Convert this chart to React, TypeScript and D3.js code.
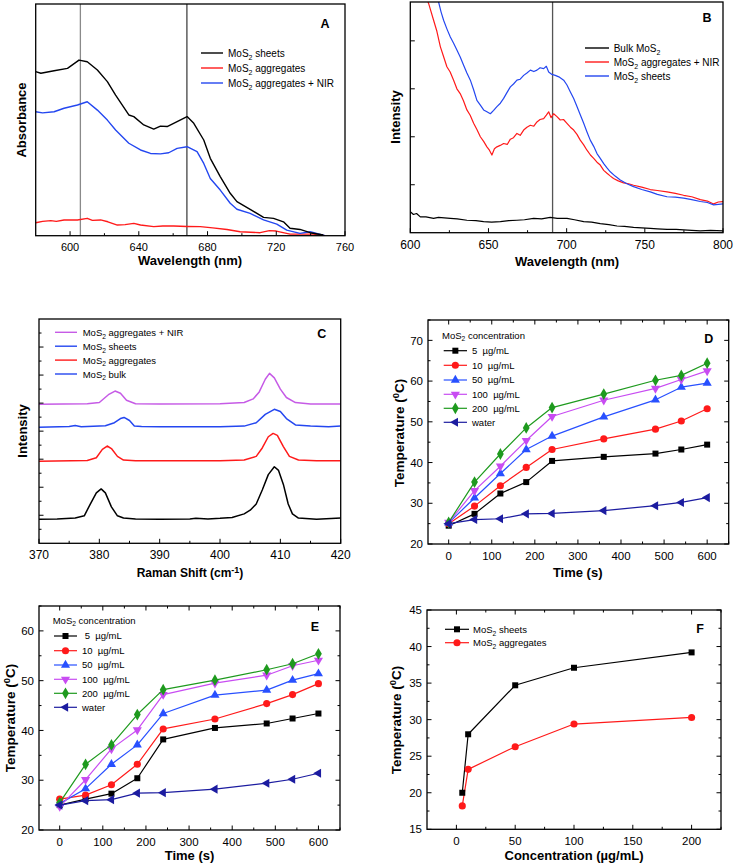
import React from "react";
import * as d3 from "d3";

const FONT = "'Liberation Sans', Arial, Helvetica, sans-serif";
type P = [number, number];

// ---------- Panel A: absorbance ----------
const aSheets: P[] = [[580,0.708],[583,0.701],[590.7,0.712],[598.5,0.722],[605.2,0.758],[610,0.751],[615.9,0.715],[621.7,0.665],[626.5,0.607],[634.2,0.521],[637.1,0.514],[642.9,0.478],[648.7,0.46],[652.6,0.473],[656.5,0.471],[662.3,0.492],[668.1,0.514],[672,0.485],[677.8,0.413],[681.6,0.334],[687.4,0.255],[693.2,0.183],[697.1,0.147],[704.8,0.114],[712.6,0.079],[718.4,0.075],[724.2,0.06],[728,0.032],[733.8,0.027],[739.7,0.013],[747.4,0.003]];
const aAggregates: P[] = [[580,0.056],[584,0.062],[588.8,0.065],[592,0.062],[596.5,0.068],[604.3,0.068],[610,0.075],[613,0.066],[617.8,0.068],[622,0.06],[627.5,0.046],[632,0.048],[637.1,0.053],[641,0.046],[648.7,0.039],[654,0.042],[660.3,0.042],[668,0.04],[675.8,0.039],[683,0.034],[691.3,0.027],[699,0.017],[705,0.015],[710.6,0.013],[716,0.022],[720,0.02],[728,0.007],[741.6,0.007],[748.4,0]];
const aAggNIR: P[] = [[580,0.535],[584,0.53],[590.7,0.535],[596.5,0.55],[604.3,0.564],[610,0.578],[615.9,0.542],[621.7,0.499],[626.5,0.456],[634.2,0.399],[641,0.37],[646.8,0.355],[652.6,0.353],[657.4,0.358],[662.3,0.377],[668.1,0.384],[673.9,0.363],[677.8,0.312],[681.6,0.247],[687.4,0.197],[693.2,0.14],[697.1,0.114],[704.8,0.096],[712.6,0.068],[720.3,0.05],[726.1,0.024],[733.8,0.01],[739.7,0.017],[748.4,0]];
const aVLines = [606, 668];
const aXTicks = [600, 640, 680, 720, 760];
const aXMinor = [620, 660, 700, 740];
const aLegend = ["sheets", "aggregates", "aggregates + NIR"];

// ---------- Panel B: photoluminescence ----------
const bBulk: P[] = [[600,0.44],[602,0.38],[604,0.4],[606.4,0.33],[610,0.33],[614.9,0.3],[618,0.32],[625.6,0.3],[630,0.29],[636.2,0.26],[642,0.25],[646.9,0.23],[652,0.22],[657.6,0.23],[663,0.25],[668.2,0.26],[673,0.27],[678.9,0.3],[684,0.29],[689.5,0.32],[694,0.3],[700.2,0.3],[705,0.27],[710.9,0.23],[716,0.22],[721.5,0.19],[727,0.17],[732.2,0.14],[737,0.13],[742.8,0.11],[748,0.1],[753.5,0.09],[758,0.08],[764.2,0.07],[770,0.07],[774.8,0.06],[780,0.05],[785.5,0.04],[792,0.05],[800,0.04]];
const bAggNIR: P[] = [[609,5.0],[611.7,4.78],[614.9,4.43],[617,4.2],[619.2,3.88],[621,3.7],[623.4,3.46],[625.5,3.35],[627.7,3.18],[629.8,3.0],[631.9,2.9],[634,2.75],[636.2,2.56],[638.3,2.45],[640.5,2.28],[642.6,2.15],[644.8,2.0],[647,1.9],[649,1.79],[650.6,1.72],[652.2,1.62],[653.8,1.75],[655.4,1.79],[657.5,1.82],[659.7,1.86],[662,1.84],[664,1.95],[666,1.98],[668.2,2.07],[670.3,2.03],[672.5,2.14],[674.6,2.2],[676.8,2.24],[679,2.22],[681,2.31],[683,2.36],[685.3,2.38],[687,2.45],[688.5,2.52],[690,2.4],[691.7,2.48],[693.8,2.42],[695.9,2.35],[698,2.36],[700.2,2.28],[702.4,2.2],[704.5,2.14],[706.6,2.05],[708.7,1.93],[710.9,1.83],[713,1.72],[715.2,1.62],[717.3,1.55],[719.4,1.47],[721.5,1.41],[723.7,1.3],[725.8,1.24],[728,1.18],[730,1.13],[733,1.08],[736.4,1.04],[739.6,1.02],[742.8,0.99],[748,0.95],[753.5,0.9],[758,0.88],[764.2,0.85],[769.5,0.82],[774.8,0.78],[780,0.75],[785.5,0.69],[790,0.66],[794,0.6],[797,0.64],[800,0.65]];
const bSheets: P[] = [[616.5,5.0],[618.1,4.81],[619.7,4.6],[621.3,4.43],[623.4,4.25],[625.6,4.08],[627.7,3.95],[629.8,3.81],[632,3.66],[634.1,3.49],[636.2,3.33],[638.4,3.18],[640.5,2.98],[642.6,2.76],[644.8,2.66],[646.9,2.56],[649,2.52],[651.2,2.48],[653.3,2.55],[655.4,2.63],[657.6,2.7],[659.7,2.8],[661.8,2.92],[664,3.04],[666,3.1],[668.2,3.18],[670.3,3.2],[672.5,3.28],[674.6,3.33],[676.8,3.39],[679,3.36],[681,3.39],[683,3.44],[685.3,3.42],[687,3.47],[688.5,3.35],[690.6,3.3],[692.7,3.28],[695,3.25],[698.1,3.18],[700.2,3.08],[702.3,2.94],[704.5,2.8],[706.6,2.63],[708.7,2.46],[710.9,2.28],[713,2.1],[715.1,1.93],[717.3,1.8],[719.4,1.65],[721.5,1.55],[723.7,1.44],[725.8,1.35],[727.9,1.27],[731,1.18],[734.3,1.1],[738.5,1.02],[742.8,0.96],[748,0.9],[753.5,0.85],[758,0.8],[764.2,0.75],[769.5,0.74],[774.8,0.72],[780,0.69],[785.5,0.65],[790,0.63],[794,0.58],[800,0.6]];
const bVLine = 691;
const bXTicks = [600, 650, 700, 750, 800];
const bXMinor = [625, 675, 725, 775];
const bYTicks = [1, 2, 3, 4];

// ---------- Panel C: Raman ----------
const cBulk: P[] = [[370,0.86],[373,0.87],[376,0.9],[377.5,0.98],[378.5,1.4],[379.5,1.8],[380.3,1.94],[381,1.8],[382,1.3],[383,0.98],[384,0.9],[386,0.87],[390,0.86],[395,0.87],[396,0.89],[398,0.87],[400,0.89],[402,0.92],[404,1.05],[405,1.18],[406,1.4],[407,1.9],[408,2.45],[409,2.73],[409.7,2.6],[410.5,2.1],[411.3,1.4],[412,1.05],[413,0.9],[416,0.86],[420,0.9]];
const cAggregates: P[] = [[370,2.93],[378,2.95],[379.5,3.05],[380.5,3.35],[381.3,3.47],[382,3.38],[383,3.1],[384,2.97],[386,2.94],[400,2.94],[404,2.97],[406,3.1],[407,3.4],[408,3.8],[408.8,3.92],[409.5,3.85],[410.5,3.45],[411.5,3.1],[413,2.97],[416,2.94],[420,2.94]];
const cSheets: P[] = [[370,4.14],[375,4.17],[376,4.2],[377,4.16],[381,4.19],[382.5,4.3],[383.5,4.45],[384.1,4.49],[385,4.38],[385.8,4.18],[387,4.17],[390,4.16],[400,4.16],[404,4.18],[406,4.3],[407.5,4.6],[409,4.78],[410,4.7],[411,4.45],[412.5,4.22],[415,4.18],[418,4.16],[420,4.18]];
const cAggNIR: P[] = [[370,4.96],[378,4.98],[380,5.02],[381.5,5.3],[382.6,5.43],[383.5,5.35],[384.5,5.1],[386,4.98],[390,4.97],[400,4.98],[404,5.02],[405.5,5.15],[406.5,5.4],[407.5,5.85],[408.2,6.06],[409,5.9],[410,5.5],[411,5.2],[412.5,5.02],[415,4.97],[420,4.97]];
const cXTicks = [370, 380, 390, 400, 410, 420];
const cXMinor = [375, 385, 395, 405, 415];
const cYTicks = [1, 2, 3, 4, 5, 6, 7];
const cYMinor = [0.5, 1.5, 2.5, 3.5, 4.5, 5.5, 6.5, 7.5];
const cLegend = ["aggregates + NIR", "sheets", "aggregates", "bulk"];

// ---------- Panels D & E: heating curves ----------
const times = [0, 60, 120, 180, 240, 360, 480, 540, 600];
const concLabels = ["5  µg/mL", "10  µg/mL", "50  µg/mL", "100  µg/mL", "200  µg/mL", "water"];
const eConcLabels = [" 5  µg/mL", "10  µg/mL", "50  µg/mL", "100  µg/mL", "200  µg/mL", "water"];
const d5 = [24.5, 27.4, 32.4, 35.2, 40.4, 41.4, 42.2, 43.2, 44.4];
const d10 = [25.0, 29.3, 34.3, 38.8, 43.2, 45.8, 48.2, 50.2, 53.2];
const d50 = [25.2, 31.3, 37.3, 43.2, 46.5, 51.2, 55.4, 58.5, 59.5];
const d100 = [25.3, 33.1, 39.1, 45.4, 51.3, 55.3, 58.2, 60.4, 62.5];
const d200 = [25.3, 35.2, 42.1, 48.5, 53.5, 56.8, 60.2, 61.4, 64.4];
const dWater = [25.0, 26.0, 26.2, 27.4, 27.5, 28.2, 29.4, 30.2, 31.4];
const e5 = [25.0, 26.2, 27.3, 30.4, 38.2, 40.5, 41.4, 42.4, 43.4];
const e10 = [26.2, 27.0, 29.1, 33.2, 40.3, 42.3, 45.4, 47.2, 49.4];
const e50 = [25.3, 28.3, 33.2, 37.1, 43.4, 47.1, 48.1, 50.1, 51.4];
const e100 = [24.7, 30.1, 36.3, 40.1, 47.2, 49.5, 51.1, 53.0, 54.1];
const e200 = [25.5, 33.2, 37.1, 43.2, 48.2, 50.1, 52.2, 53.4, 55.4];
const eWater = [25.0, 25.9, 26.1, 27.4, 27.5, 28.2, 29.4, 30.2, 31.4];
const timeTicks = [0, 100, 200, 300, 400, 500, 600];
const timeMinor = [50, 150, 250, 350, 450, 550, 650];
const dYTicks = [20, 30, 40, 50, 60, 70];
const dYMinor = [25, 35, 45, 55, 65, 75];
const eYTicks = [20, 30, 40, 50, 60];
const eYMinor = [25, 35, 45, 55, 65];

// ---------- Panel F: temperature vs concentration ----------
const fConc = [5, 10, 50, 100, 200];
const fSheets = [20.0, 28.0, 34.7, 37.1, 39.2];
const fAggregates = [18.2, 23.2, 26.3, 29.4, 30.3];
const fXTicks = [0, 50, 100, 150, 200];
const fXMinor = [25, 75, 125, 175, 225];
const fYTicks = [15, 20, 25, 30, 35, 40, 45];
const fYMinor = [17.5, 22.5, 27.5, 32.5, 37.5, 42.5];
const fLegend = ["sheets", "aggregates"];

// ---------- styles ----------
const COL = {
  black: "#000000",
  red: "#ff1a1a",
  blue: "#2447f0",
  violet: "#c84cf2",
  green: "#1e9a1e",
  navy: "#1c1ca0",
  magenta: "#c65be6",
};
const seriesStyles = [
  { color: COL.black, shape: "square" },
  { color: COL.red, shape: "circle" },
  { color: "#2850ff", shape: "up" },
  { color: COL.violet, shape: "down" },
  { color: COL.green, shape: "diamond" },
  { color: COL.navy, shape: "left" },
];

type Sc = d3.ScaleLinear<number, number>;

function Marker({ shape, x, y, color }: { shape: string; x: number; y: number; color: string }) {
  let type: d3.SymbolType = d3.symbolSquare;
  let rot = 0;
  let size = 36;
  if (shape === "circle") { type = d3.symbolCircle; size = 40; }
  if (shape === "up") { type = d3.symbolTriangle; size = 36; }
  if (shape === "down") { type = d3.symbolTriangle; rot = 180; size = 36; }
  if (shape === "left") { type = d3.symbolTriangle; rot = -90; size = 36; }
  if (shape === "diamond") { type = d3.symbolDiamond; size = 40; }
  const path = d3.symbol().type(type).size(size)() || "";
  return <path d={path} fill={color} transform={`translate(${x},${y}) rotate(${rot})`} />;
}

function Frame(props: {
  x: Sc; y: Sc; id: string;
  xTicks: number[]; xMinor?: number[]; yTicks?: number[]; yMinor?: number[];
  xLabels?: boolean; yLabels?: boolean; mirror?: boolean; labelFs?: number;
  xLabelDy?: number; yLabelDx?: number;
}) {
  const { x, y, xTicks, xMinor = [], yTicks = [], yMinor = [], xLabels = true, yLabels = false, mirror = false } = props;
  const fs = props.labelFs ?? 11;
  const [x0, x1] = x.range();
  const [y0, y1] = y.range(); // y0 bottom, y1 top
  const M = 4.5, m = 2.5;
  const els: React.ReactNode[] = [];
  xTicks.forEach((t, i) => {
    const px = x(t);
    els.push(<line key={"xt" + i} x1={px} x2={px} y1={y0} y2={y0 - M} stroke="#000" strokeWidth={1} />);
    if (mirror) els.push(<line key={"xtt" + i} x1={px} x2={px} y1={y1} y2={y1 + M} stroke="#000" strokeWidth={1} />);
    if (xLabels) els.push(<text key={"xl" + i} x={px} y={y0 + (props.xLabelDy ?? 15)} textAnchor="middle" fontSize={fs}>{t}</text>);
  });
  xMinor.forEach((t, i) => {
    const px = x(t);
    if (px < x0 - 0.5 || px > x1 + 0.5) return;
    els.push(<line key={"xm" + i} x1={px} x2={px} y1={y0} y2={y0 - m} stroke="#000" strokeWidth={1} />);
    if (mirror) els.push(<line key={"xmt" + i} x1={px} x2={px} y1={y1} y2={y1 + m} stroke="#000" strokeWidth={1} />);
  });
  yTicks.forEach((t, i) => {
    const py = y(t);
    els.push(<line key={"yt" + i} x1={x0} x2={x0 + M} y1={py} y2={py} stroke="#000" strokeWidth={1} />);
    if (mirror) els.push(<line key={"ytr" + i} x1={x1} x2={x1 - M} y1={py} y2={py} stroke="#000" strokeWidth={1} />);
    if (yLabels) els.push(<text key={"yl" + i} x={x0 - (props.yLabelDx ?? 5)} y={py + fs * 0.36} textAnchor="end" fontSize={fs}>{t}</text>);
  });
  yMinor.forEach((t, i) => {
    const py = y(t);
    if (py > y0 + 0.5 || py < y1 - 0.5) return;
    els.push(<line key={"ym" + i} x1={x0} x2={x0 + m} y1={py} y2={py} stroke="#000" strokeWidth={1} />);
    if (mirror) els.push(<line key={"ymr" + i} x1={x1} x2={x1 - m} y1={py} y2={py} stroke="#000" strokeWidth={1} />);
  });
  return (
    <g>
      <rect x={x0} y={y1} width={x1 - x0} height={y0 - y1} fill="none" stroke="#000" strokeWidth={1.3} />
      {els}
    </g>
  );
}

function MoS2({ x, y, rest, fs, prefix = "" }: { x: number; y: number; rest: string; fs: number; prefix?: string }) {
  return (
    <text x={x} y={y} fontSize={fs} style={{ whiteSpace: "pre" }}>
      {prefix}MoS<tspan dy={fs * 0.3} fontSize={fs * 0.7}>2</tspan>
      <tspan dy={-fs * 0.3}>{rest}</tspan>
    </text>
  );
}

function TempLabel({ x, y, fs }: { x: number; y: number; fs: number }) {
  return (
    <text x={x} y={y} fontSize={fs} fontWeight="bold" textAnchor="middle" transform={`rotate(-90 ${x} ${y})`}>
      Temperature (<tspan dy={-fs * 0.35} fontSize={fs * 0.7}>0</tspan>
      <tspan dy={fs * 0.35}>C)</tspan>
    </text>
  );
}

function Curve({ data, x, y, color, w = 1.4 }: { data: P[]; x: Sc; y: Sc; color: string; w?: number }) {
  const d = d3.line<P>().x((p) => x(p[0])).y((p) => y(p[1]))(data) || "";
  return <path d={d} fill="none" stroke={color} strokeWidth={w} strokeLinejoin="round" />;
}

function HeatPanel(props: {
  L: number; R: number; T: number; B: number; id: string; yDom: [number, number];
  series: number[][]; yTicks: number[]; yMinor: number[]; labels: string[];
  legend: { tx: number; ty: number; lx0: number; lx1: number; textX: number; rows: number[] };
  letter: string; letterPos: [number, number];
  xTitle: [number, number]; yTitle: [number, number];
}) {
  const x = d3.scaleLinear().domain([-48, 650]).range([props.L, props.R]);
  const y = d3.scaleLinear().domain(props.yDom).range([props.B, props.T]);
  const lg = props.legend;
  return (
    <g>
      <Frame x={x} y={y} id={props.id} xTicks={timeTicks} xMinor={timeMinor} yTicks={props.yTicks} yMinor={props.yMinor} yLabels mirror labelFs={11.5} xLabelDy={16} yLabelDx={5} />
      {props.series.map((s, i) => {
        const st = seriesStyles[i];
        const pts: P[] = times.map((t, j) => [t, s[j]]);
        return (
          <g key={i}>
            <Curve data={pts} x={x} y={y} color={st.color} w={1.2} />
            {pts.map((p, j) => <Marker key={j} shape={st.shape} x={x(p[0])} y={y(p[1])} color={st.color} />)}
          </g>
        );
      })}
      <MoS2 x={lg.tx} y={lg.ty} rest=" concentration" fs={9.5} />
      {props.labels.map((lab, i) => {
        const st = seriesStyles[i];
        const ry = lg.rows[i];
        return (
          <g key={i}>
            <line x1={lg.lx0} x2={lg.lx1} y1={ry} y2={ry} stroke={st.color} strokeWidth={1.2} />
            <Marker shape={st.shape} x={(lg.lx0 + lg.lx1) / 2} y={ry} color={st.color} />
            <text x={lg.textX} y={ry + 3.4} fontSize={9.5} style={{ whiteSpace: "pre" }}>{lab}</text>
          </g>
        );
      })}
      <text x={props.letterPos[0]} y={props.letterPos[1]} fontSize={12.5} fontWeight="bold" textAnchor="middle">{props.letter}</text>
      <text x={props.xTitle[0]} y={props.xTitle[1]} fontSize={13} fontWeight="bold" textAnchor="middle">Time (s)</text>
      <TempLabel x={props.yTitle[0]} y={props.yTitle[1]} fs={13.5} />
    </g>
  );
}

export default function App() {
  // Panel A
  const aL = 35.7, aR = 345, aT = 4, aB = 235.7;
  const ax = d3.scaleLinear().domain([580, 760]).range([aL, aR]);
  const ay = d3.scaleLinear().domain([0, 1]).range([aB, aT]);
  // Panel B
  const bL = 410.3, bR = 723, bT = 2, bB = 232.7;
  const bx = d3.scaleLinear().domain([600, 800]).range([bL, bR]);
  const by = d3.scaleLinear().domain([0, 4.81]).range([bB, bT]);
  // Panel C
  const cL = 39, cR = 340.7, cT = 319, cB = 543.3;
  const cx = d3.scaleLinear().domain([370, 420]).range([cL, cR]);
  const cy = d3.scaleLinear().domain([0, 8]).range([cB, cT]);
  // Panel F
  const fL = 427, fR = 721, fT = 610, fB = 829.3;
  const fx = d3.scaleLinear().domain([-25, 225]).range([fL, fR]);
  const fy = d3.scaleLinear().domain([15, 45]).range([fB, fT]);

  const aColors = [COL.black, COL.red, COL.blue];
  const bColors = [COL.black, COL.red, COL.blue];
  const cColors = [COL.magenta, COL.blue, COL.red, COL.blue];

  return (
    <svg width={734} height={866} style={{ position: "absolute", left: 0, top: 0, background: "#fff" }} fontFamily={FONT}>
      <rect x={0} y={0} width={734} height={866} fill="#fff" />
      <defs>
        <clipPath id="clipA"><rect x={aL} y={aT} width={aR - aL} height={aB - aT} /></clipPath>
        <clipPath id="clipB"><rect x={bL} y={bT} width={bR - bL} height={bB - bT} /></clipPath>
        <clipPath id="clipC"><rect x={cL} y={cT} width={cR - cL} height={cB - cT} /></clipPath>
      </defs>

      {/* ---------- A ---------- */}
      <g>
        <g clipPath="url(#clipA)">
          <line x1={ax(aVLines[0])} x2={ax(aVLines[0])} y1={aT} y2={aB} stroke="#8a8a8a" strokeWidth={1.3} />
          <line x1={ax(aVLines[1])} x2={ax(aVLines[1])} y1={aT} y2={aB} stroke="#222" strokeWidth={1.1} />
          <Curve data={aAggregates} x={ax} y={ay} color={COL.red} />
          <Curve data={aAggNIR} x={ax} y={ay} color={COL.blue} />
          <Curve data={aSheets} x={ax} y={ay} color={COL.black} />
        </g>
        <Frame x={ax} y={ay} id="A" xTicks={aXTicks} xMinor={aXMinor} labelFs={11} xLabelDy={15} />
        {aLegend.map((l, i) => (
          <g key={i}>
            <line x1={201} x2={223} y1={53 + i * 15} y2={53 + i * 15} stroke={aColors[i]} strokeWidth={1.4} />
            <MoS2 x={228} y={53 + i * 15 + 3.5} rest={" " + l} fs={10} />
          </g>
        ))}
        <text x={325} y={27.5} fontSize={12.5} fontWeight="bold" textAnchor="middle">A</text>
        <text x={190} y={264.5} fontSize={13} fontWeight="bold" textAnchor="middle">Wavelength (nm)</text>
        <text x={25.5} y={120} fontSize={13} fontWeight="bold" textAnchor="middle" transform="rotate(-90 25.5 120)">Absorbance</text>
      </g>

      {/* ---------- B ---------- */}
      <g>
        <g clipPath="url(#clipB)">
          <line x1={bx(bVLine)} x2={bx(bVLine)} y1={bT} y2={bB} stroke="#555" strokeWidth={1.3} />
          <Curve data={bBulk} x={bx} y={by} color={COL.black} w={1.2} />
          <Curve data={bAggNIR} x={bx} y={by} color={COL.red} w={1.2} />
          <Curve data={bSheets} x={bx} y={by} color={COL.blue} w={1.2} />
        </g>
        <Frame x={bx} y={by} id="B" xTicks={bXTicks} xMinor={bXMinor} yTicks={bYTicks} labelFs={12} xLabelDy={16} />
        <line x1={585} x2={609} y1={48} y2={48} stroke={bColors[0]} strokeWidth={1.4} />
        <text x={613.7} y={51.5} fontSize={10} style={{ whiteSpace: "pre" }}>Bulk MoS<tspan dy={3} fontSize={7}>2</tspan></text>
        <line x1={585} x2={609} y1={62} y2={62} stroke={bColors[1]} strokeWidth={1.4} />
        <MoS2 x={613.7} y={65.5} rest=" aggregates + NIR" fs={10} />
        <line x1={585} x2={609} y1={76} y2={76} stroke={bColors[2]} strokeWidth={1.4} />
        <MoS2 x={613.7} y={79.5} rest=" sheets" fs={10} />
        <text x={707} y={21.5} fontSize={12.5} fontWeight="bold" textAnchor="middle">B</text>
        <text x={567} y={266} fontSize={13} fontWeight="bold" textAnchor="middle">Wavelength (nm)</text>
        <text x={399.5} y={117} fontSize={13} fontWeight="bold" textAnchor="middle" transform="rotate(-90 399.5 117)">Intensity</text>
      </g>

      {/* ---------- C ---------- */}
      <g>
        <g clipPath="url(#clipC)">
          <Curve data={cBulk} x={cx} y={cy} color={COL.black} w={1.5} />
          <Curve data={cAggregates} x={cx} y={cy} color={COL.red} w={1.5} />
          <Curve data={cSheets} x={cx} y={cy} color={COL.blue} w={1.5} />
          <Curve data={cAggNIR} x={cx} y={cy} color={COL.magenta} w={1.5} />
        </g>
        <Frame x={cx} y={cy} id="C" xTicks={cXTicks} xMinor={cXMinor} yTicks={cYTicks} yMinor={cYMinor} labelFs={12} xLabelDy={16} />
        {cLegend.map((l, i) => (
          <g key={i}>
            <line x1={55} x2={77} y1={332.3 + i * 13.9} y2={332.3 + i * 13.9} stroke={cColors[i]} strokeWidth={1.4} />
            <MoS2 x={82.7} y={332.3 + i * 13.9 + 3.5} rest={" " + l} fs={9.5} />
          </g>
        ))}
        <text x={321.7} y={337.8} fontSize={12.5} fontWeight="bold" textAnchor="middle">C</text>
        <text x={190} y={577} fontSize={12} fontWeight="bold" textAnchor="middle">
          Raman Shift (cm<tspan dy={-4.5} fontSize={9}>-1</tspan><tspan dy={4.5}>)</tspan>
        </text>
        <text x={27} y={431} fontSize={13} fontWeight="bold" textAnchor="middle" transform="rotate(-90 27 431)">Intensity</text>
      </g>

      {/* ---------- D ---------- */}
      <HeatPanel
        L={428} R={728.7} T={320} B={544} id="D" yDom={[20, 75]}
        series={[d5, d10, d50, d100, d200, dWater]} yTicks={dYTicks} yMinor={dYMinor} labels={concLabels}
        legend={{ tx: 442, ty: 338.5, lx0: 443.7, lx1: 467, textX: 472, rows: [350.7, 365.3, 380, 394.3, 408.3, 422.3] }}
        letter="D" letterPos={[708.7, 342.5]} xTitle={[577.7, 577]} yTitle={[404, 433]}
      />

      {/* ---------- E ---------- */}
      <HeatPanel
        L={39} R={340} T={606} B={830} id="E" yDom={[20, 65]}
        series={[e5, e10, e50, e100, e200, eWater]} yTicks={eYTicks} yMinor={eYMinor} labels={eConcLabels}
        legend={{ tx: 52.7, ty: 623.5, lx0: 54, lx1: 77, textX: 82, rows: [636, 650.7, 665, 679.3, 693.3, 707.3] }}
        letter="E" letterPos={[315, 631]} xTitle={[189.5, 860]} yTitle={[15, 718]}
      />

      {/* ---------- F ---------- */}
      <g>
        <Frame x={fx} y={fy} id="F" xTicks={fXTicks} xMinor={fXMinor} yTicks={fYTicks} yMinor={fYMinor} yLabels mirror labelFs={11.5} xLabelDy={16} yLabelDx={5} />
        <Curve data={fConc.map((c, i) => [c, fSheets[i]] as P)} x={fx} y={fy} color={COL.black} w={1.2} />
        <Curve data={fConc.map((c, i) => [c, fAggregates[i]] as P)} x={fx} y={fy} color={COL.red} w={1.2} />
        {fConc.map((c, i) => <Marker key={"fs" + i} shape="square" x={fx(c)} y={fy(fSheets[i])} color={COL.black} />)}
        {fConc.map((c, i) => <Marker key={"fa" + i} shape="circle" x={fx(c)} y={fy(fAggregates[i])} color={COL.red} />)}
        {fLegend.map((l, i) => (
          <g key={i}>
            <line x1={445} x2={469} y1={629.3 + i * 13.4} y2={629.3 + i * 13.4} stroke={i === 0 ? COL.black : COL.red} strokeWidth={1.2} />
            <Marker shape={i === 0 ? "square" : "circle"} x={457} y={629.3 + i * 13.4} color={i === 0 ? COL.black : COL.red} />
            <MoS2 x={473} y={629.3 + i * 13.4 + 3.4} rest={" " + l} fs={9.5} />
          </g>
        ))}
        <text x={700} y={632.5} fontSize={12.5} fontWeight="bold" textAnchor="middle">F</text>
        <text x={574} y={860} fontSize={13} fontWeight="bold" textAnchor="middle">Concentration (µg/mL)</text>
        <TempLabel x={401} y={720} fs={13.5} />
      </g>
    </svg>
  );
}
